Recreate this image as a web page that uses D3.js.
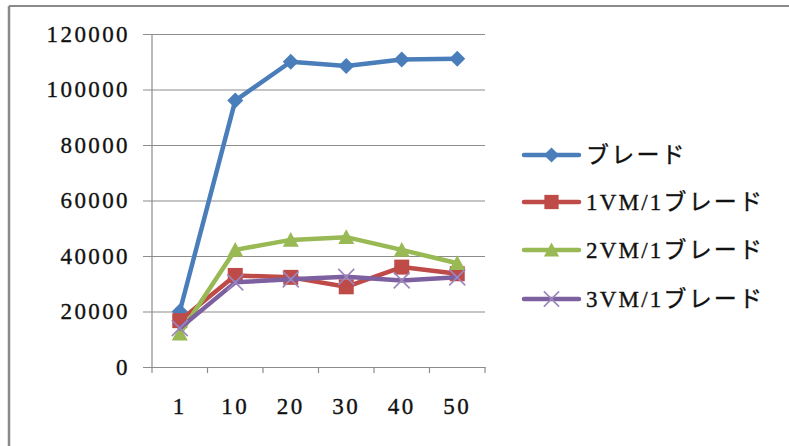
<!DOCTYPE html>
<html>
<head>
<meta charset="utf-8">
<script src="https://cdn.jsdelivr.net/npm/d3@7"></script>
<style>
  html, body { margin: 0; padding: 0; background: #fff; }
  svg { display: block; }
</style>
</head>
<body>
<svg id="chart" width="789" height="446"></svg>
<script>
// Throughput per configuration, by number of clients
const categories = ["1", "10", "20", "30", "40", "50"];
const seriesNames = ["ブレード", "1VM/1ブレード", "2VM/1ブレード", "3VM/1ブレード"];
const blade    = [20000, 96000, 110000, 108500, 110800, 111100];
const vm1blade = [16700, 33000, 32300, 28900, 36000, 33600];
const vm2blade = [12000, 42200, 45800, 46800, 42200, 37400];
const vm3blade = [14000, 30500, 31600, 32500, 31200, 32300];
const yTicks = [0, 20000, 40000, 60000, 80000, 100000, 120000];

const seriesValues = [blade, vm1blade, vm2blade, vm3blade];
const colors = ["#4A7EBB", "#BE4B48", "#98B954", "#7D60A0"];
const markerFill = ["#4A7EBB", "#BE4B48", "#98B954", "#9C86BC"];
const markerTypes = ["diamond", "square", "triangle", "cross"];
const FONT = "'Liberation Serif', 'DejaVu Serif', 'Noto Sans CJK JP', serif";

const svg = d3.select("#chart");

// outer chart frame (only top and left edges fall inside the view)
svg.append("line").attr("x1", 9).attr("y1", 6).attr("x2", 789).attr("y2", 6)
  .attr("stroke", "#8a8a8a").attr("stroke-width", 2);
svg.append("line").attr("x1", 9).attr("y1", 6).attr("x2", 9).attr("y2", 446)
  .attr("stroke", "#8a8a8a").attr("stroke-width", 2.5);

const plot = { left: 152, right: 485, top: 34, bottom: 367 };
const x = d3.scaleBand().domain(categories).range([plot.left, plot.right]);
const y = d3.scaleLinear().domain([0, 120000]).range([plot.bottom, plot.top]);

// slightly heavier glyphs for all labels
function styleText(sel) {
  sel.attr("font-family", FONT).attr("font-size", 23).attr("fill", "#111")
    .attr("stroke", "#111").attr("stroke-width", 0.35);
}

// horizontal gridlines with short tick stubs on the left
const yAxis = d3.axisLeft(y).tickValues(yTicks)
  .tickSize(-(plot.right - plot.left)).tickFormat(d => d).tickPadding(16);
const gy = svg.append("g").attr("transform", `translate(${plot.left},0)`).call(yAxis)
  .attr("font-family", FONT);
gy.select(".domain").remove();
gy.selectAll(".tick line").attr("stroke", "#8c8c8c").attr("stroke-width", 1.2)
  .attr("x1", -9);
gy.selectAll(".tick text").call(styleText).attr("letter-spacing", 2.4).attr("x", -22);

// vertical axis line
svg.append("line").attr("x1", plot.left).attr("x2", plot.left)
  .attr("y1", plot.top).attr("y2", plot.bottom + 1)
  .attr("stroke", "#8c8c8c").attr("stroke-width", 1.2);

// category axis with tick marks at band boundaries
const gx = svg.append("g").attr("transform", `translate(0,${plot.bottom})`)
  .call(d3.axisBottom(x).tickSize(0).tickPadding(31))
  .attr("font-family", FONT);
gx.select(".domain").attr("stroke", "#8c8c8c").attr("stroke-width", 1.2);
gx.selectAll(".tick text").call(styleText).attr("letter-spacing", 2.4);
const bounds = categories.map(c => x(c)).concat([x(categories[categories.length - 1]) + x.bandwidth()]);
svg.append("g").selectAll("line").data(bounds).join("line")
  .attr("x1", d => d).attr("x2", d => d)
  .attr("y1", plot.bottom).attr("y2", plot.bottom + 6)
  .attr("stroke", "#8c8c8c").attr("stroke-width", 1.2);

const cx = c => x(c) + x.bandwidth() / 2;

function drawMarker(g, type, px, py, i, scale) {
  const s = scale || 1;
  if (type === "diamond") {
    const r = 8 * s;
    g.append("path").attr("d", `M${px},${py - r}L${px + r},${py}L${px},${py + r}L${px - r},${py}Z`)
      .attr("fill", markerFill[i]);
  } else if (type === "square") {
    const h = 7.5 * s;
    g.append("rect").attr("x", px - h).attr("y", py - h).attr("width", 2 * h).attr("height", 2 * h)
      .attr("fill", markerFill[i]);
  } else if (type === "triangle") {
    const h = 8 * s;
    g.append("path").attr("d", `M${px},${py - h}L${px + h},${py + h * 0.85}L${px - h},${py + h * 0.85}Z`)
      .attr("fill", markerFill[i]);
  } else {
    const h = 8 * s;
    g.append("path").attr("d", `M${px - h},${py - h}L${px + h},${py + h}M${px - h},${py + h}L${px + h},${py - h}`)
      .attr("stroke", markerFill[i]).attr("stroke-width", 1.6).attr("fill", "none");
  }
}

const line = d3.line().x((d, j) => cx(categories[j])).y(d => y(d));

seriesValues.forEach((vals, i) => {
  const g = svg.append("g");
  g.append("path").datum(vals).attr("d", line)
    .attr("fill", "none").attr("stroke", colors[i]).attr("stroke-width", 4.5)
    .attr("stroke-linejoin", "round").attr("stroke-linecap", "round");
  vals.forEach((v, j) => drawMarker(g, markerTypes[i], cx(categories[j]), y(v), i));
});

// legend
const legendY = [155, 202, 250, 299];
seriesNames.forEach((name, i) => {
  const g = svg.append("g");
  const ly = legendY[i];
  g.append("line").attr("x1", 524).attr("x2", 579).attr("y1", ly).attr("y2", ly)
    .attr("stroke", colors[i]).attr("stroke-width", 4.5).attr("stroke-linecap", "round");
  drawMarker(g, markerTypes[i], 551.5, ly, i, 0.95);
  g.append("text").attr("x", 586).attr("y", ly).attr("dy", "0.35em")
    .call(styleText).attr("letter-spacing", 2.2).text(name);
});
</script>
</body>
</html>
